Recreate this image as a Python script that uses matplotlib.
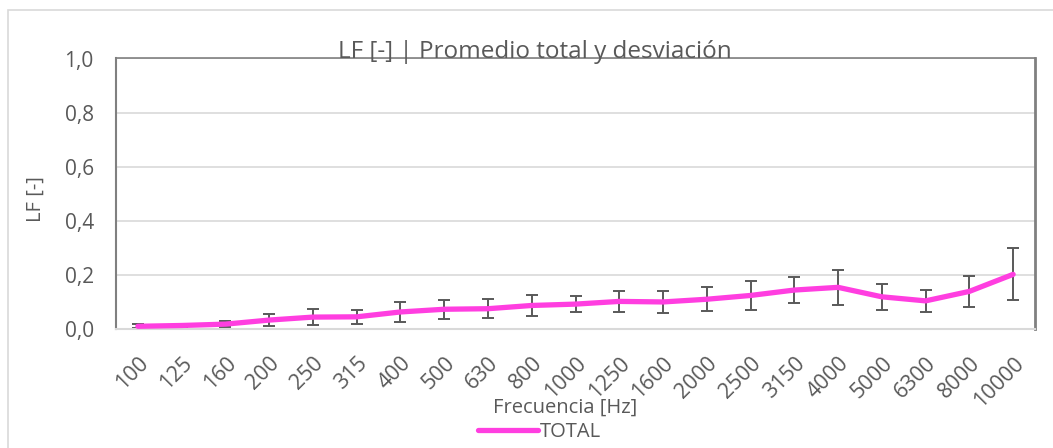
import numpy as np
import matplotlib.pyplot as plt
from matplotlib.patches import Rectangle

plt.rcParams["font.family"] = ["Open Sans", "DejaVu Sans"]

frequencies = ["100", "125", "160", "200", "250", "315", "400", "500", "630", "800",
               "1000", "1250", "1600", "2000", "2500", "3150", "4000", "5000", "6300",
               "8000", "10000"]
lf_mean = [0.010, 0.013, 0.018, 0.033, 0.044, 0.045, 0.063, 0.073, 0.075, 0.087,
           0.092, 0.102, 0.100, 0.110, 0.124, 0.144, 0.154, 0.119, 0.104, 0.139, 0.202]
lf_std = [0.007, 0.006, 0.012, 0.022, 0.029, 0.025, 0.037, 0.036, 0.035, 0.040,
          0.031, 0.039, 0.040, 0.045, 0.052, 0.049, 0.065, 0.047, 0.041, 0.058, 0.096]

TEXT = "#595959"
W, H = 1053, 448

fig = plt.figure(figsize=(W / 100, H / 100), dpi=100)
ax = fig.add_axes([116 / W, 1 - 329 / H, (1035 - 116) / W, (329 - 58.5) / H])

# outer chart border (runs off the image on the right and bottom)
fig.patches.append(Rectangle((8 / W, -0.1), 1.2, 1 - 10 / H + 0.1,
                             transform=fig.transFigure, fill=False,
                             edgecolor="#D9D9D9", linewidth=1.2))

x = np.arange(len(frequencies))
ax.errorbar(x, lf_mean, yerr=lf_std, fmt="none", ecolor="#595959",
            elinewidth=1.4, capsize=4.5, capthick=1.4, zorder=2)
ax.plot(x, lf_mean, color="#FF3EE0", linewidth=3.8, label="TOTAL",
        solid_capstyle="round", zorder=3)

ax.set_xlim(-0.5, len(frequencies) - 0.5)
ax.set_ylim(0, 1.0)
yt = np.arange(0, 1.01, 0.2)
ax.set_yticks(yt)
ax.set_yticklabels([f"{v:.1f}".replace(".", ",") for v in yt])
ax.set_xticks(x)
ax.set_xticklabels(frequencies, rotation=45, ha="right", va="top",
                   rotation_mode="anchor")
ax.tick_params(axis="both", length=0, colors=TEXT)
ax.tick_params(axis="x", pad=17, labelsize=15.5)
ax.tick_params(axis="y", pad=16, labelsize=15)

ax.grid(axis="y", color="#D9D9D9", linewidth=1.2)
ax.set_axisbelow(True)
ax.spines["left"].set_color("#808080")
ax.spines["left"].set_linewidth(1.5)
ax.spines["top"].set_color("#808080")
ax.spines["top"].set_linewidth(1.2)
ax.spines["right"].set_color("#808080")
ax.spines["right"].set_linewidth(2)
ax.spines["bottom"].set_color("#D9D9D9")
ax.spines["bottom"].set_linewidth(1.5)

ax.set_ylabel("LF [-]", color=TEXT, fontsize=14.5)
ax.yaxis.set_label_coords(-0.076, 0.48)
ax.set_xlabel("Frecuencia [Hz]", color=TEXT, fontsize=14.5)
ax.xaxis.set_label_coords(0.489, -0.255)
ax.text(0.456, 1.0, "LF [-] | Promedio total y desviación", transform=ax.transAxes,
        ha="center", va="baseline", color=TEXT, fontsize=17.5)

leg = ax.legend(loc="center", bbox_to_anchor=(0.461, -0.381), frameon=False,
                fontsize=14.5, handlelength=3.0, handletextpad=0.1,
                borderaxespad=0)
for t in leg.get_texts():
    t.set_color(TEXT)

fig.savefig("out.png", dpi=100)
